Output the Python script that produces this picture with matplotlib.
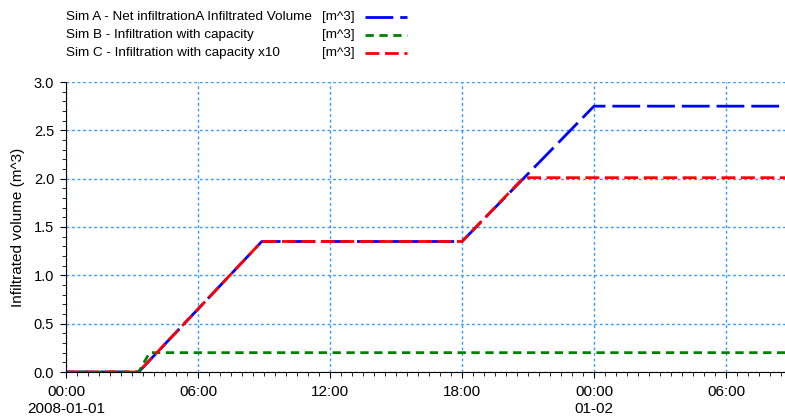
import datetime as dt
import numpy as np
import matplotlib
matplotlib.use("Agg")
import matplotlib.pyplot as plt
import matplotlib.dates as mdates
from matplotlib.lines import Line2D

plt.rcParams['font.family'] = ['Liberation Sans', 'DejaVu Sans']
plt.rcParams['lines.scale_dashes'] = False

start = dt.datetime(2008, 1, 1)

# hours since 2008-01-01 00:00 and volumes [m^3]
hours_a = [0, 3.3, 8.9, 18.0, 24.0, 33.0]
vol_a = [0, 0, 1.35, 1.35, 2.75, 2.75]
hours_b = [0, 3.3, 3.8, 33.0]
vol_b = [0, 0, 0.2, 0.2]
hours_c = [0, 3.3, 8.9, 18.0, 20.8, 33.0]
vol_c = [0, 0, 1.35, 1.35, 2.01, 2.01]

names = ["Sim A - Net infiltrationA Infiltrated Volume",
         "Sim B - Infiltration with capacity",
         "Sim C - Infiltration with capacity x10"]
units = ["[m^3]", "[m^3]", "[m^3]"]
colors = ["#0000ff", "#008000", "#ff0000"]
dashes = [(20, 5), (6, 4), (10, 4)]


def to_dates(hours):
    return [start + dt.timedelta(hours=h) for h in hours]


fig = plt.figure(figsize=(7.85, 4.18), dpi=100)
ax = fig.add_axes([66 / 785, 46 / 418, 1 - 66 / 785, 290 / 418])

series = [(hours_a, vol_a), (hours_b, vol_b), (hours_c, vol_c)]
for (h, v), c, d in zip(series, colors, dashes):
    ax.plot(to_dates(h), v, color=c, lw=2, dashes=d)

ax.set_xlim(start, start + dt.timedelta(hours=(785 - 66) / 22))
ax.set_ylim(0, 3.0)
ax.set_yticks(np.arange(0, 3.01, 0.5))
ax.yaxis.set_minor_locator(matplotlib.ticker.MultipleLocator(0.1))
ax.yaxis.set_major_formatter(matplotlib.ticker.FormatStrFormatter('%.1f'))

xt = to_dates([0, 6, 12, 18, 24, 30])
ax.set_xticks(xt)
ax.set_xticklabels(["00:00\n2008-01-01", "06:00", "12:00", "18:00", "00:00\n01-02", "06:00"],
                   fontsize=11, linespacing=1.25)
ax.xaxis.set_minor_locator(mdates.MinuteLocator(byminute=[0, 30]))

ax.grid(True, which='major', color='#3399ff', ls=(0, (2, 2)), lw=1)
for s in ['top', 'right']:
    ax.spines[s].set_visible(False)
ax.tick_params(which='major', length=4.5, colors='black')
ax.tick_params(which='minor', length=3)
ax.tick_params(axis='x', which='major', pad=5)
ax.tick_params(axis='y', which='major', labelsize=10.5, pad=4)
ax.set_ylabel("Infiltrated volume (m^3)", fontsize=11, labelpad=6)

# legend drawn in figure pixels
W, H = 785, 418
for i, (n, u, c, d) in enumerate(zip(names, units, colors, dashes)):
    y = 1 - (17 + 18 * i) / H
    fig.text(66 / W, y, n, fontsize=9.7, va='center', ha='left')
    fig.text(322 / W, y, u, fontsize=9.7, va='center', ha='left')
    fig.add_artist(Line2D([365 / W, 407 / W], [y, y], color=c, lw=2, dashes=d,
                          transform=fig.transFigure))

fig.savefig("out.png", dpi=100)
